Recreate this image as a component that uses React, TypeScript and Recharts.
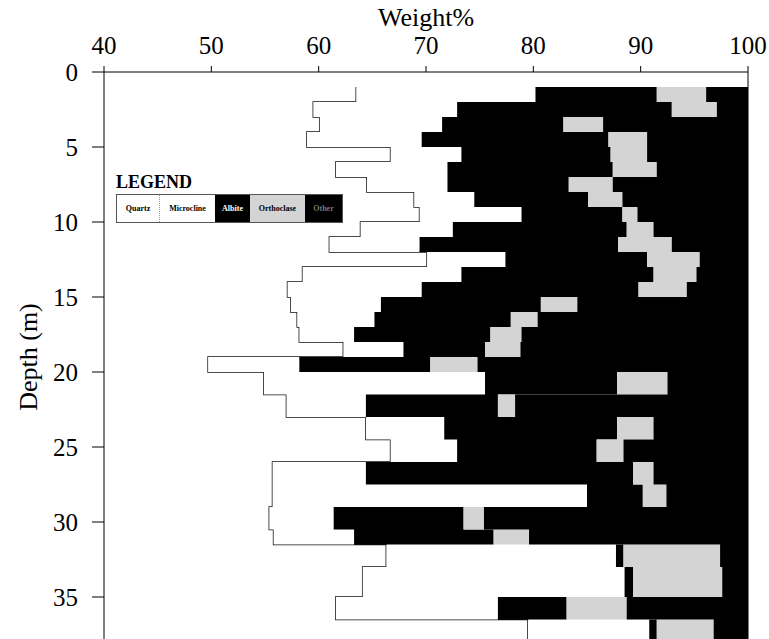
import { AreaChart, Area, XAxis, YAxis, Legend, ReferenceLine } from "recharts";

const SERIF = "'Liberation Serif', 'Times New Roman', serif";

// top of each sampled interval (m)
const depths = [
  1, 2, 3, 4, 5, 6, 7, 8, 9, 10, 11, 12, 13, 14, 15, 16, 17, 18, 19, 20, 21.5, 23, 24.5, 26, 27.5, 29,
  30.5, 31.5, 33, 35, 36.5,
];
const quartz = [
  63.5, 59.5, 60.1, 58.9, 66.7, 61.6, 64.5, 68.9, 69.4, 63.9, 61.0, 70.1, 58.5, 57.1, 57.4, 58.0, 58.2,
  62.3, 49.7, 54.9, 57.0, 64.4, 66.7, 55.7, 55.7, 55.4, 55.8, 66.3, 64.1, 61.6, 79.5,
];
const microcline = [
  16.7, 13.4, 11.4, 10.7, 6.6, 10.4, 7.5, 5.6, 9.5, 8.6, 8.4, 7.3, 14.8, 12.5, 8.4, 7.2, 5.1, 5.6, 8.5,
  20.6, 7.4, 7.3, 6.2, 8.7, 29.3, 6.0, 7.5, 21.4, 24.4, 15.1, 11.3,
];
const albite = [
  11.3, 20.0, 11.3, 17.4, 13.9, 15.4, 11.3, 10.6, 9.4, 16.2, 18.5, 13.2, 17.9, 20.2, 14.9, 12.7, 12.7, 7.6,
  12.2, 12.3, 12.3, 16.1, 13.0, 24.9, 5.2, 12.1, 13.0, 0.7, 0.8, 6.4, 0.7,
];
const orthoclase = [
  4.6, 4.2, 3.7, 3.6, 3.4, 4.1, 4.1, 3.2, 1.4, 2.5, 5.0, 4.9, 4.0, 4.5, 3.4, 2.5, 2.9, 3.3, 4.4, 4.7, 1.6,
  3.4, 2.5, 1.9, 2.2, 1.9, 3.3, 9.0, 8.3, 5.6, 5.3,
];
const other = [
  3.9, 2.9, 13.5, 9.4, 9.4, 8.5, 12.6, 11.7, 10.3, 8.8, 7.1, 4.5, 4.8, 5.7, 15.9, 19.6, 21.1, 21.2, 25.2,
  7.5, 21.7, 8.8, 11.6, 8.8, 7.6, 24.6, 20.4, 2.6, 2.4, 11.3, 3.2,
];

const xTicks = [40, 50, 60, 70, 80, 90, 100];
const yTicks = [0, 5, 10, 15, 20, 25, 30, 35];

const minerals = [
  { key: "quartz", name: "Quartz", fill: "#ffffff", text: "#000000", w: 42 },
  { key: "microcline", name: "Microcline", fill: "#ffffff", text: "#000000", w: 55 },
  { key: "albite", name: "Albite", fill: "#000000", text: "#ffffff", w: 35 },
  { key: "orthoclase", name: "Orthoclase", fill: "#d4d4d4", text: "#000000", w: 55 },
  { key: "other", name: "Other", fill: "#000000", text: "#777777", w: 37 },
];

const rows = depths.map((depth, i) => ({
  depth,
  quartz: quartz[i],
  microcline: microcline[i],
  albite: albite[i],
  orthoclase: orthoclase[i],
  other: other[i],
}));
// close the last interval below the bottom of the plot
rows.push({ ...rows[rows.length - 1], depth: 38 });

const LegendBox = () => (
  <div style={{ fontFamily: SERIF }}>
    <div style={{ fontWeight: "bold", fontSize: 18, lineHeight: "20px", color: "#000" }}>LEGEND</div>
    <div style={{ display: "flex", border: "1px solid #555", height: 27, marginTop: 2 }}>
      {minerals.map((m, i) => (
        <div
          key={m.key}
          style={{
            width: m.w,
            background: m.fill,
            color: m.text,
            fontSize: 8,
            fontWeight: "bold",
            display: "flex",
            alignItems: "center",
            justifyContent: "center",
            borderLeft: i === 1 ? "1px dotted #999" : "none",
          }}
        >
          {m.name}
        </div>
      ))}
    </div>
  </div>
);

// axis title above the top tick labels
const WeightTitle = (props: any) => {
  const vb = props.viewBox || {};
  return (
    <text x={vb.x + vb.width / 2} y={26} textAnchor="middle" fill="#000" fontSize={26} fontFamily={SERIF}>
      Weight%
    </text>
  );
};

export default function App() {
  return (
    <div style={{ position: "fixed", left: 0, top: 0, width: 769, height: 639, overflow: "hidden", background: "#fff" }}>
      <AreaChart
        width={769}
        height={700}
        data={rows}
        layout="vertical"
        margin={{ top: 0, right: 21, bottom: 58, left: 0 }}
      >
        <XAxis
          type="number"
          orientation="top"
          domain={[40, 100]}
          ticks={xTicks}
          allowDataOverflow
          height={72}
          tickSize={6}
          tickMargin={12}
          stroke="#000"
          tick={{ fill: "#000", fontSize: 25, fontFamily: SERIF }}
          label={{ content: WeightTitle }}
        />
        <YAxis
          type="number"
          dataKey="depth"
          domain={[0, 38]}
          ticks={yTicks}
          allowDataOverflow
          width={104}
          tickSize={12}
          tickMargin={14}
          stroke="#000"
          tick={{ fill: "#000", fontSize: 25, fontFamily: SERIF }}
          label={{
            value: "Depth (m)",
            angle: -90,
            position: "insideLeft",
            offset: 28,
            fill: "#000",
            fontSize: 26,
            fontFamily: SERIF,
            style: { textAnchor: "middle", fontFamily: SERIF },
          }}
        />
        {minerals.map((m) => (
          <Area
            key={m.key}
            dataKey={m.key}
            name={m.name}
            stackId="a"
            type="stepBefore"
            fill={m.fill}
            fillOpacity={1}
            stroke={m.key === "quartz" ? "#111" : "none"}
            strokeWidth={1.5}
            dot={false}
            activeDot={false}
            isAnimationActive={false}
          />
        ))}
        <ReferenceLine x={100} stroke="#000" />
        <Legend
          layout="horizontal"
          verticalAlign="middle"
          align="center"
          content={() => <LegendBox />}
          wrapperStyle={{ left: 116, top: 172, width: "auto", height: "auto" }}
        />
      </AreaChart>
    </div>
  );
}
